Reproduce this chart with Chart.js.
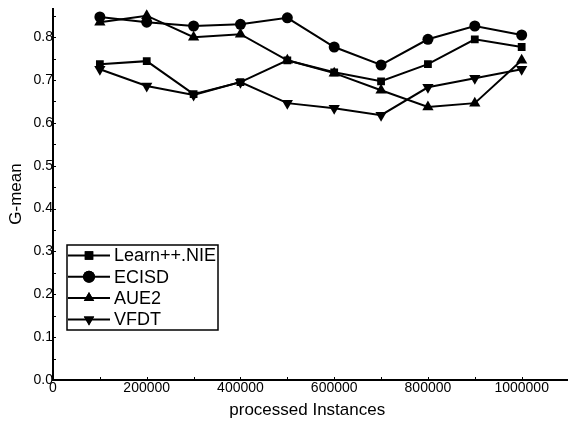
<!DOCTYPE html>
<html>
<head>
<meta charset="utf-8">
<script src="https://cdn.jsdelivr.net/npm/chart.js@4/dist/chart.umd.min.js"></script>
<style>
html,body{margin:0;padding:0;background:#fff;}
#wrap{width:568px;height:426px;position:relative;}
</style>
</head>
<body>
<div id="wrap"><canvas id="c" width="568" height="426"></canvas></div>
<script>
const xValues = [100000,200000,300000,400000,500000,600000,700000,800000,900000,1000000];
const learnNIE = [0.737,0.744,0.667,0.695,0.746,0.718,0.697,0.737,0.795,0.777];
const ecisd    = [0.847,0.835,0.826,0.830,0.845,0.777,0.735,0.795,0.826,0.805];
const aue2     = [0.835,0.850,0.800,0.807,0.746,0.716,0.676,0.637,0.646,0.746];
const vfdt     = [0.725,0.686,0.665,0.695,0.646,0.634,0.618,0.683,0.704,0.725];
const xTickLabels = [0,200000,400000,600000,800000,1000000];
const yTickLabels = [0,0.1,0.2,0.3,0.4,0.5,0.6,0.7,0.8];
const seriesNames = ['Learn++.NIE','ECISD','AUE2','VFDT'];
const seriesStyles = ['rect','circle','triangle','triangle'];
const seriesRot = [0,0,0,180];
const seriesData = [learnNIE, ecisd, aue2, vfdt];

const FONT = "'Liberation Sans', Arial, sans-serif";

const datasets = seriesData.map((vals, i) => ({
  label: seriesNames[i],
  data: vals.map((v, k) => ({x: xValues[k], y: v})),
  borderColor: '#000',
  backgroundColor: '#000',
  borderWidth: 2,
  pointStyle: seriesStyles[i],
  pointRotation: seriesRot[i],
  pointRadius: i === 0 ? 5.5 : (i === 1 ? 5.5 : 6.5),
  pointBorderWidth: 0,
  tension: 0
}));

const insideTicks = {
  id: 'insideTicks',
  afterDraw(chart) {
    const ctx = chart.ctx, xs = chart.scales.x, ys = chart.scales.y, a = chart.chartArea;
    ctx.save();
    ctx.strokeStyle = '#000';
    ctx.lineWidth = 1;
    for (let v = 100000; v <= 1000000; v += 100000) {
      const px = Math.round(xs.getPixelForValue(v)) + 0.5;
      ctx.beginPath(); ctx.moveTo(px, a.bottom); ctx.lineTo(px, a.bottom - 3); ctx.stroke();
    }
    for (let k = 1; k <= 17; k++) {
      const py = Math.round(ys.getPixelForValue(k * 0.05)) + 0.5;
      ctx.beginPath(); ctx.moveTo(a.left, py); ctx.lineTo(a.left + 3, py); ctx.stroke();
    }
    // axes
    ctx.lineWidth = 2;
    ctx.beginPath();
    ctx.moveTo(a.left, a.top); ctx.lineTo(a.left, a.bottom); ctx.lineTo(chart.width, a.bottom);
    ctx.stroke();
    // legend
    const bx = 67, by = 245, bw = 151, bh = 85;
    ctx.lineWidth = 1.5;
    ctx.strokeRect(bx, by, bw, bh);
    ctx.font = '18px ' + FONT;
    ctx.textBaseline = 'middle';
    ctx.fillStyle = '#000';
    seriesNames.forEach((name, i) => {
      const cy = by + 10.5 + i * 21.3;
      ctx.lineWidth = 2;
      ctx.beginPath(); ctx.moveTo(bx + 1, cy); ctx.lineTo(bx + 43, cy); ctx.stroke();
      Chart.helpers.drawPoint(ctx, {pointStyle: seriesStyles[i], rotation: seriesRot[i], radius: 6, borderWidth: 0}, bx + 22, cy);
      ctx.fill();
      ctx.fillText(name, bx + 47, cy + 1);
    });
    ctx.restore();
  }
};

new Chart(document.getElementById('c'), {
  type: 'line',
  data: { datasets },
  options: {
    responsive: false,
    animation: false,
    layout: { padding: { top: 8, right: 0, left: 0, bottom: 0 } },
    plugins: { legend: { display: false }, tooltip: { enabled: false } },
    scales: {
      x: {
        type: 'linear', min: 0, max: 1085000,
        grid: { display: false, drawTicks: false },
        border: { display: false },
        afterBuildTicks(s) { s.ticks = xTickLabels.map(v => ({value: v})); },
        afterFit(s) { s.height = 46; s.paddingRight = 0; s.paddingLeft = 0; },
        ticks: { color: '#000', font: { family: FONT, size: 14 }, padding: 0, maxRotation: 0, autoSkip: false,
          callback: v => String(v) },
        title: { display: true, text: 'processed Instances', color: '#000', font: { family: FONT, size: 17 }, padding: { top: 1, bottom: 5 } }
      },
      y: {
        type: 'linear', min: 0, max: 0.868,
        grid: { display: false, drawTicks: false },
        border: { display: false },
        afterBuildTicks(s) { s.ticks = yTickLabels.map(v => ({value: v})); },
        afterFit(s) { s.width = 53; s.paddingTop = 0; s.paddingBottom = 0; },
        ticks: { color: '#000', font: { family: FONT, size: 14 }, padding: 0, callback: v => v.toFixed(1) },
        title: { display: true, text: 'G-mean', color: '#000', font: { family: FONT, size: 17 }, padding: { top: 6, bottom: 0 } }
      }
    }
  },
  plugins: [insideTicks]
});
</script>
</body>
</html>
